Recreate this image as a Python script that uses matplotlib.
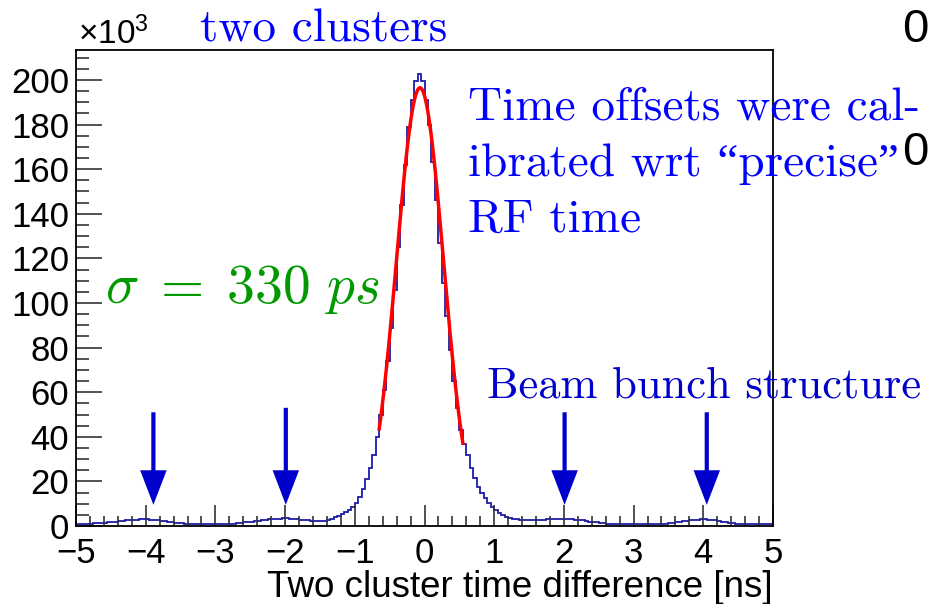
import numpy as np
import matplotlib
matplotlib.use("Agg")
import matplotlib.pyplot as plt
from matplotlib.patches import FancyArrow

plt.rcParams['font.family'] = ['Liberation Sans', 'DejaVu Sans']
plt.rcParams['mathtext.fontset'] = 'cm'

# histogram: 200 bins of 0.05 ns from -5 to 5, counts in units of 10^3
x_lo, x_hi, n_bins = -5.0, 5.0, 200
counts = [
    0.8, 0.8, 0.9, 1.0, 1.1, 1.2, 1.3, 1.4, 1.5, 1.6,
    1.7, 1.9, 2.1, 2.3, 2.5, 2.7, 2.8, 2.9, 3.0, 3.0,
    3.0, 2.9, 2.8, 2.6, 2.4, 2.2, 2.0, 1.8, 1.5, 1.3,
    1.2, 1.1, 1.0, 0.9, 0.9, 0.8, 0.8, 0.8, 0.8, 0.8,
    0.8, 0.8, 0.9, 0.9, 1.0, 1.1, 1.2, 1.4, 1.6, 1.8,
    2.0, 2.2, 2.4, 2.6, 2.8, 3.0, 3.1, 3.2, 3.3, 3.4,
    3.4, 3.3, 3.2, 3.0, 2.8, 2.6, 2.5, 2.4, 2.3, 2.2,
    2.2, 2.4, 2.8, 3.3, 3.9, 4.5, 5.2, 6.1, 7.2, 8.7,
    10.5, 13, 16.5, 21, 26, 32, 40, 50, 61, 74,
    89, 106, 125, 144, 162, 179, 191, 199.5, 202.5, 199.5,
    191, 180, 163, 146, 127, 109, 94, 79, 65, 53,
    43, 37, 32, 26, 21.5, 17.6, 14.7, 12.5, 10.3, 8.6,
    7.1, 5.8, 4.9, 4.2, 3.7, 3.3, 3.0, 2.9, 2.8, 2.7,
    2.7, 2.7, 2.7, 2.8, 2.9, 3.0, 3.1, 3.2, 3.3, 3.3,
    3.3, 3.2, 3.1, 2.9, 2.7, 2.5, 2.3, 2.0, 1.8, 1.6,
    1.4, 1.2, 1.1, 1.0, 0.9, 0.8, 0.8, 0.8, 0.8, 0.8,
    0.8, 0.8, 0.8, 0.8, 0.8, 0.8, 0.9, 0.9, 1.0, 1.1,
    1.2, 1.4, 1.6, 1.9, 2.2, 2.4, 2.6, 2.8, 2.9, 3.0,
    3.0, 2.9, 2.8, 2.6, 2.3, 2.0, 1.8, 1.5, 1.3, 1.1,
    1.0, 0.9, 0.9, 0.8, 0.8, 0.8, 0.8, 0.8, 0.8, 0.8,
]

# gaussian fit (red)
fit_amp = 196.5
fit_mean = -0.065
fit_sigma = 0.337
fit_range = (-0.65, 0.55)

# beam bunch arrows
arrow_x = [-3.89, -1.99, 2.01, 4.05]
arrow_top = [51, 53, 51, 51]
arrow_tip = 9.5

fig = plt.figure(figsize=(9.33, 6.04), dpi=100)
ax = fig.add_axes([0.0815, 0.1291, 0.747, 0.788])

edges = np.linspace(x_lo, x_hi, n_bins + 1)
ax.stairs(counts, edges, baseline=None, color='#1c1ca8', lw=1.3)

xf = np.linspace(fit_range[0], fit_range[1], 300)
ax.plot(xf, fit_amp * np.exp(-0.5 * ((xf - fit_mean) / fit_sigma) ** 2),
        color='red', lw=2.5)

for xa, top in zip(arrow_x, arrow_top):
    ax.add_patch(FancyArrow(xa, top, 0, arrow_tip - top, width=0.06,
                            head_width=0.38, head_length=15.5,
                            length_includes_head=True, color='#0000cc', lw=0))

ax.set_xlim(-5, 5)
ax.set_ylim(0, 213.4)
ax.set_xticks(range(-5, 6))
ax.set_xticks(np.arange(-5, 5.01, 0.2), minor=True)
ax.set_yticks(range(0, 201, 20))
ax.set_yticks(range(0, 211, 5), minor=True)
ax.tick_params(which='both', direction='in', top=False, right=False,
               labelsize=25, width=1.2, color='#333333')
ax.tick_params(which='major', length=19)
ax.tick_params(which='minor', length=9)
ax.tick_params(axis='x', which='major', length=15, pad=8)
ax.tick_params(axis='x', which='minor', length=7)
ax.tick_params(axis='y', pad=5)
for s in ax.spines.values():
    s.set_linewidth(1.3)

ax.set_xlabel('Two cluster time difference [ns]', fontsize=26.5, loc='right',
              labelpad=0)

W, H = 933, 604
fig.text(78 / W, 1 - 44 / H, r'$\mathregular{\times10^{3}}$', fontsize=24,
         va='baseline')
fig.text(200 / W, 1 - 42 / H, 'two clusters', family='cmr10', fontsize=34,
         color='#0000ff', va='baseline')
fig.text(468 / W, 1 - 120 / H, 'Time offsets were cal-', family='cmr10',
         fontsize=34, color='#0000ff', va='baseline')
fig.text(468 / W, 1 - 176 / H, 'ibrated wrt \u201cprecise\u201d',
         family=['cmr10', 'Liberation Serif'],
         fontsize=34, color='#0000ff', va='baseline')
fig.text(468 / W, 1 - 232 / H, 'RF time', family='cmr10',
         fontsize=34, color='#0000ff', va='baseline')
fig.text(105 / W, 1 - 303 / H, r'$\sigma\;=\;330\ ps$', fontsize=40,
         color='#009900', va='baseline')
fig.text(487 / W, 1 - 398 / H, 'Beam bunch structure', family='cmr10',
         fontsize=32, color='#0000cc', va='baseline')
fig.text(902 / W, 1 - 42 / H, '0', fontsize=34, va='baseline')
fig.text(902 / W, 1 - 165 / H, '0', fontsize=34, va='baseline')

fig.savefig('out.png', dpi=100)
